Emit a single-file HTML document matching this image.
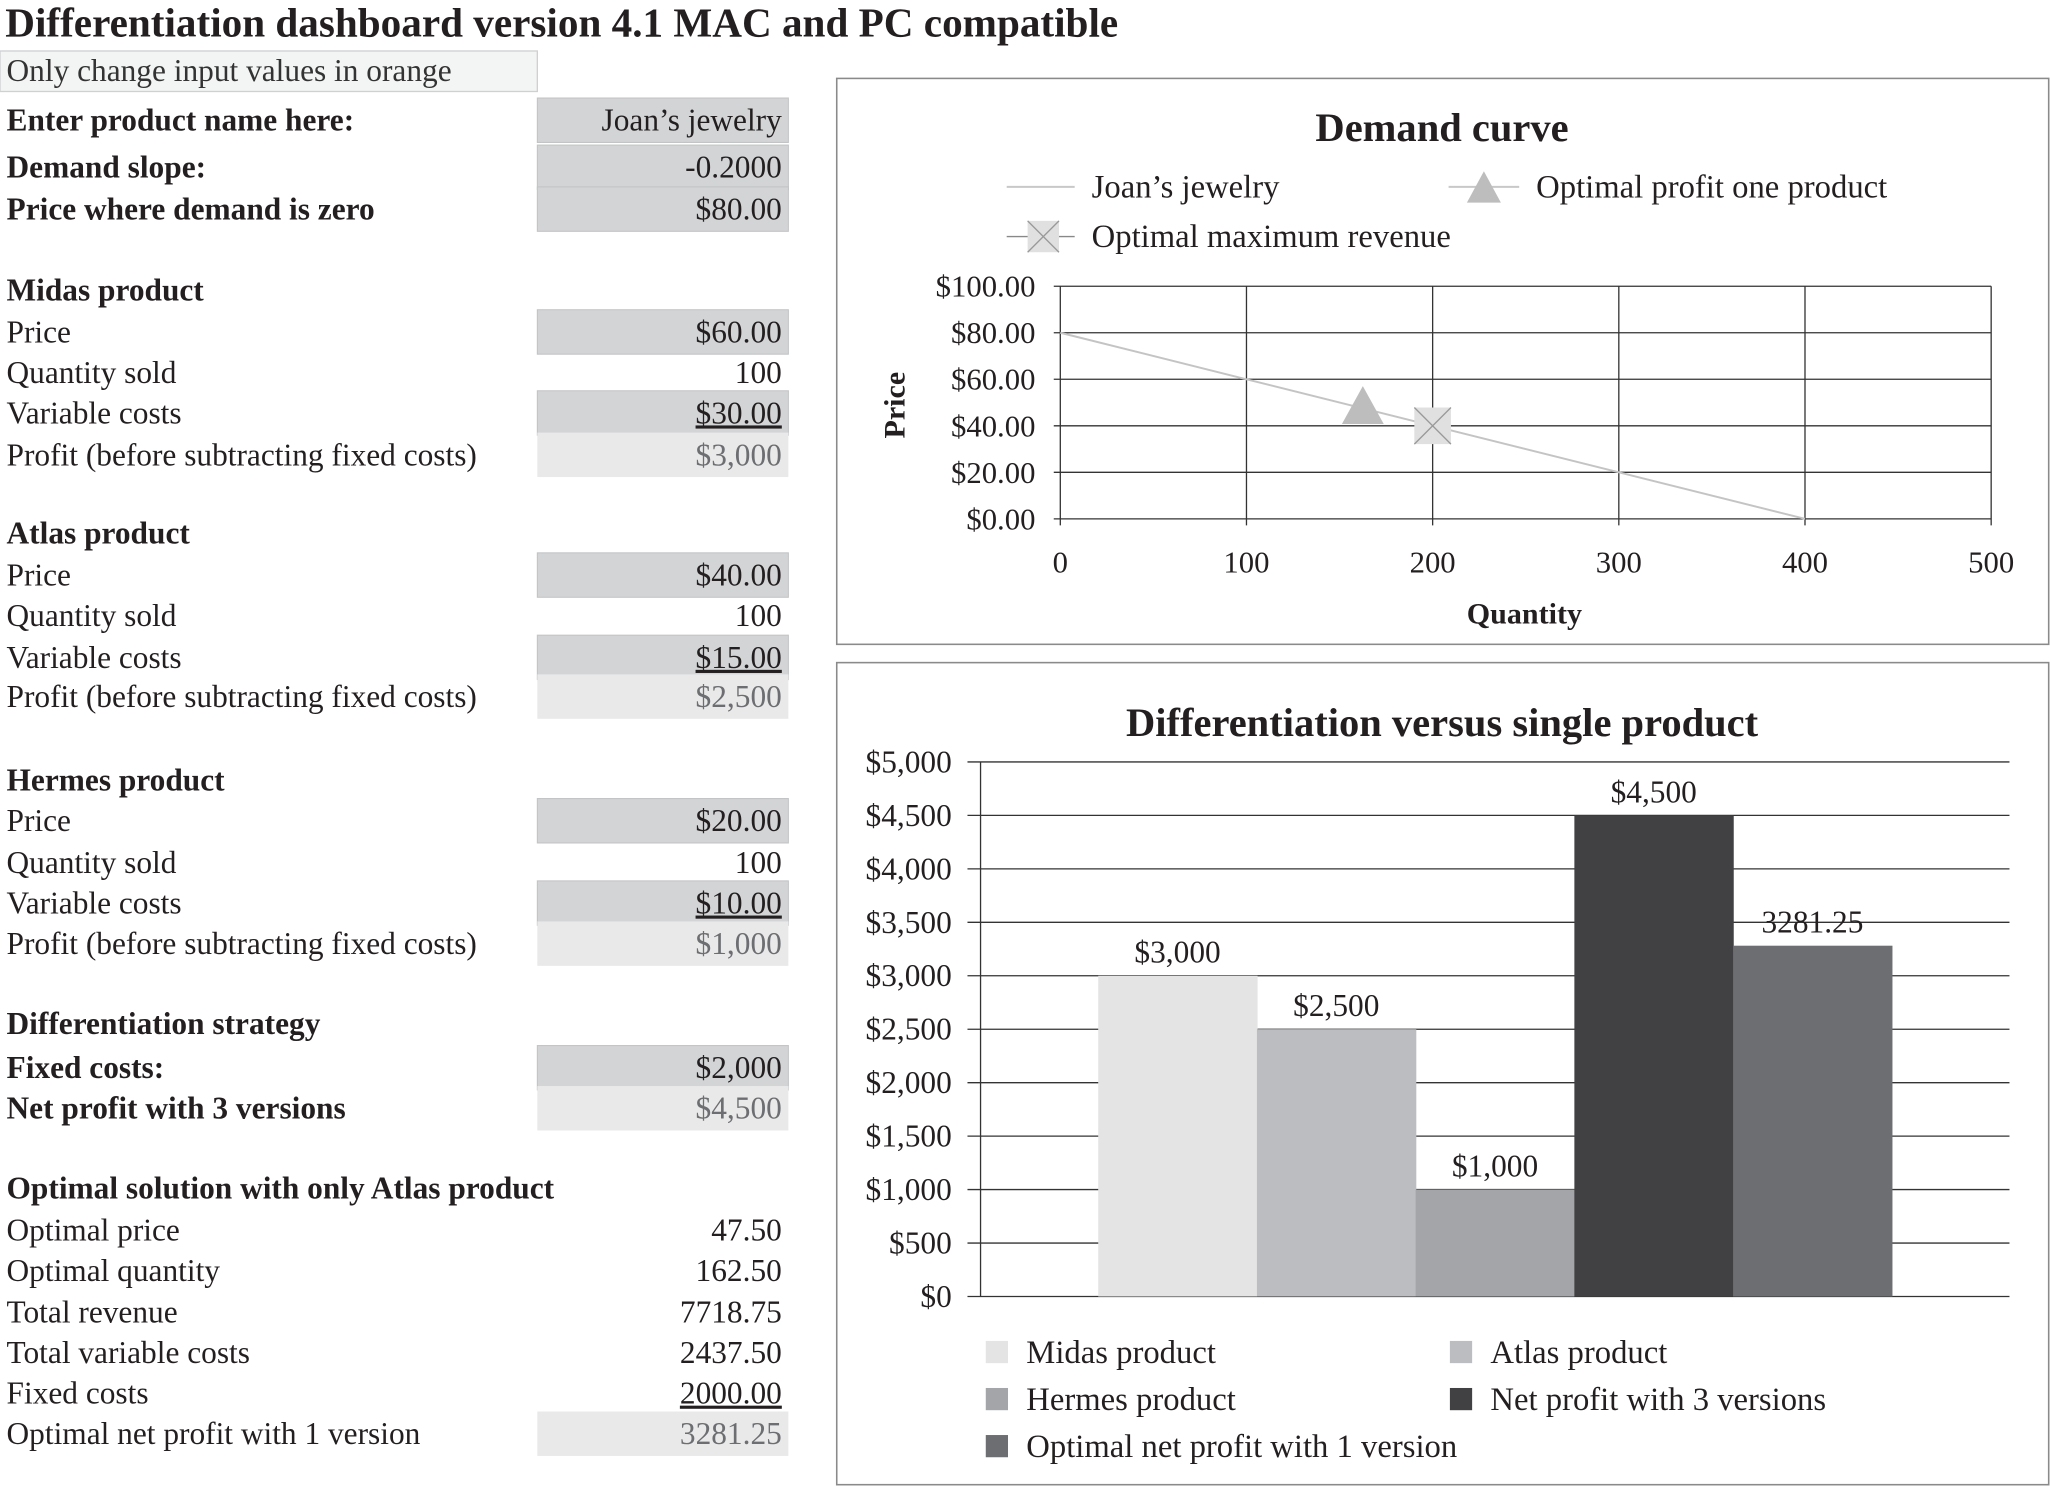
<!DOCTYPE html>
<html><head><meta charset="utf-8">
<style>
html,body{margin:0;padding:0;background:#fff;}
svg{display:block;}
text{font-family:"Liberation Serif",serif;fill:#231f20;}
</style></head>
<body>
<svg id="root" width="2050" height="1486" viewBox="0 0 1568 1137" preserveAspectRatio="none" xmlns="http://www.w3.org/2000/svg">
  <text x="4" y="28" font-size="31.5" font-weight="bold">Differentiation dashboard version 4.1 MAC and PC compatible</text>
  <rect x="0" y="39" width="411" height="31" fill="#f3f4f4" stroke="#cfd0d1" stroke-width="1"/>
  <text x="5" y="62" font-size="24" style="fill:#333">Only change input values in orange</text>
  <g id="table"></g>

  <g>
    <rect x="640" y="60" width="927" height="433" fill="#fff" stroke="#8a8a8a" stroke-width="1.2"/>
    <text x="1103" y="108" font-size="31" font-weight="bold" text-anchor="middle">Demand curve</text>
    <g id="demand-grid"></g>
    <g id="demand-marks"></g>
    <text transform="translate(692,310) rotate(-90)" font-size="23" font-weight="bold" text-anchor="middle">Price</text>
    <text x="1166" y="477" font-size="23" font-weight="bold" text-anchor="middle">Quantity</text>
    <g>
      <line x1="770" y1="143" x2="822" y2="143" stroke="#c8c8c8" stroke-width="1.5"/>
      <text x="835" y="151" font-size="25">Joan’s jewelry</text>
      <line x1="1108" y1="143" x2="1162" y2="143" stroke="#c8c8c8" stroke-width="1.5"/>
      <polygon points="1135,131 1122,155 1148,155" fill="#bdbdbd"/>
      <text x="1175" y="151" font-size="25">Optimal profit one product</text>
      <line x1="770" y1="181" x2="822" y2="181" stroke="#888" stroke-width="1"/>
      <rect x="786" y="169" width="24" height="24" fill="#e0e0e0"/>
      <line x1="786" y1="169" x2="810" y2="193" stroke="#999"/><line x1="810" y1="169" x2="786" y2="193" stroke="#999"/>
      <text x="835" y="189" font-size="25">Optimal maximum revenue</text>
    </g>
  </g>

  <g>
    <rect x="640" y="507" width="927" height="629" fill="#fff" stroke="#8a8a8a" stroke-width="1.2"/>
    <text x="1103" y="563" font-size="31" font-weight="bold" text-anchor="middle">Differentiation versus single product</text>
    <g id="bar-grid"></g>
    <g id="bar-marks"></g>
    <g id="bar-legend"></g>
  </g>
</svg>
<script>
// ---------- table ----------
var tableRows = [
 ["Enter product name here:", "Joan’s jewelry", 92, "in", true],
 ["Demand slope:", "-0.2000", 128, "in", true],
 ["Price where demand is zero", "$80.00", 160, "in", true],
 ["Midas product", "", 222, "", true],
 ["Price", "$60.00", 254, "in", false],
 ["Quantity sold", "100", 285, "", false],
 ["Variable costs", "$30.00", 316, "inu", false],
 ["Profit (before subtracting fixed costs)", "$3,000", 348, "out", false],
 ["Atlas product", "", 408, "", true],
 ["Price", "$40.00", 440, "in", false],
 ["Quantity sold", "100", 471, "", false],
 ["Variable costs", "$15.00", 503, "inu", false],
 ["Profit (before subtracting fixed costs)", "$2,500", 533, "out", false],
 ["Hermes product", "", 597, "", true],
 ["Price", "$20.00", 628, "in", false],
 ["Quantity sold", "100", 660, "", false],
 ["Variable costs", "$10.00", 691, "inu", false],
 ["Profit (before subtracting fixed costs)", "$1,000", 722, "out", false],
 ["Differentiation strategy", "", 783, "", true],
 ["Fixed costs:", "$2,000", 817, "in", true],
 ["Net profit with 3 versions", "$4,500", 848, "out", true],
 ["Optimal solution with only Atlas product", "", 909, "", true],
 ["Optimal price", "47.50", 941, "", false],
 ["Optimal quantity", "162.50", 972, "", false],
 ["Total revenue", "7718.75", 1004, "", false],
 ["Total variable costs", "2437.50", 1035, "", false],
 ["Fixed costs", "2000.00", 1066, "u", false],
 ["Optimal net profit with 1 version", "3281.25", 1097, "out", false]
];
var NS = "http://www.w3.org/2000/svg";
function mk(tag, attrs, parent){var e=document.createElementNS(NS,tag);for(var k in attrs)e.setAttribute(k,attrs[k]);parent.appendChild(e);return e;}
var tbl = document.getElementById('table');
tableRows.forEach(function(r){
  var y=r[2];
  var kind=r[3];
  if(kind==="in" || kind==="inu" || kind==="out"){
    var c=mk('rect',{x:411,y:y-17,width:192,height:34,fill:kind==="out"?"#e9e9ea":"#d3d4d6",stroke:kind==="out"?"none":"#c2c3c5","stroke-width":0.8},tbl);
    
    
  }
  var l=mk('text',{x:5,y:y+8,"font-size":24,"font-weight":r[4]?"bold":"normal"},tbl);
  l.textContent=r[0];
  
  
  if(r[1]){
    var ul=(kind==="inu"||kind==="u");
    var v=mk('text',{x:598,y:y+8,"font-size":24,"text-anchor":"end","text-decoration":ul?"underline":"none",style:"fill:"+(kind==="out"?"#6d6e71":"#231f20")},tbl);
    v.textContent=r[1];
    
    
  }
});

// ---------- demand chart ----------
var qTicks = [0,100,200,300,400,500];
var pTicks = [0,20,40,60,80,100];
var pTickLabels = ["$0.00","$20.00","$40.00","$60.00","$80.00","$100.00"];
var demandQ = [0,100,200,300,400];
var demandP = [80,60,40,20,0];
var optProfitPoint = [162.5,47.5];
var maxRevenuePoint = [200,40];
function dx(q){return 811 + q/500*(1523-811);}
function dy(p){return 397 - p/100*(397-219);}
var dg=document.getElementById('demand-grid');
pTicks.forEach(function(p,i){
  var l=mk('line',{x1:806,x2:1523,y1:dy(p),y2:dy(p),stroke:"#333","stroke-width":1},dg);
  
  
  var t=mk('text',{x:792,y:dy(p)+8,"font-size":23.5,"text-anchor":"end"},dg);
  t.textContent=pTickLabels[i];
  
  
});
qTicks.forEach(function(q){
  var l=mk('line',{x1:dx(q),x2:dx(q),y1:219,y2:402,stroke:"#333","stroke-width":1},dg);
  
  
  var t=mk('text',{x:dx(q),y:438,"font-size":23.5,"text-anchor":"middle"},dg);
  t.textContent=q;
  
  
});
var dm=document.getElementById('demand-marks');
var pts=demandQ.map(function(q,i){return dx(q)+","+dy(demandP[i]);}).join(" ");
var dl=mk('polyline',{points:pts,fill:"none",stroke:"#c4c4c4","stroke-width":1.5},dm);


var tx=dx(optProfitPoint[0]), ty=dy(optProfitPoint[1]);
var tri=mk('polygon',{points:tx+","+(ty-17)+" "+(tx-16)+","+(ty+12)+" "+(tx+16)+","+(ty+12),fill:"#bdbdbd"},dm);


var mx=dx(maxRevenuePoint[0]), my=dy(maxRevenuePoint[1]);
var xg=mk('g',{},dm);


mk('rect',{x:mx-14,y:my-14,width:28,height:28,fill:"#e0e0e0"},xg);
mk('line',{x1:mx-14,y1:my-14,x2:mx+14,y2:my+14,stroke:"#999"},xg);
mk('line',{x1:mx+14,y1:my-14,x2:mx-14,y2:my+14,stroke:"#999"},xg);

// ---------- bar chart ----------
var barSeries = ["Midas product","Atlas product","Hermes product","Net profit with 3 versions","Optimal net profit with 1 version"];
var barValues = [3000,2500,1000,4500,3281.25];
var barValueLabels = ["$3,000","$2,500","$1,000","$4,500","3281.25"];
var barColors = ["#e3e4e3","#bcbdc0","#a3a5a8","#414042","#6d6e71"];
var yTicks = [0,500,1000,1500,2000,2500,3000,3500,4000,4500,5000];
var yTickLabels = ["$0","$500","$1,000","$1,500","$2,000","$2,500","$3,000","$3,500","$4,000","$4,500","$5,000"];
function by(v){return 992 - v/5000*(992-583);}
var bw=(1447-840)/barSeries.length;
function bx(i){return 840 + i*bw;}
var bg=document.getElementById('bar-grid');
yTicks.forEach(function(v,i){
  var l=mk('line',{x1:740,x2:1537,y1:by(v),y2:by(v),stroke:"#333","stroke-width":1},bg);
  
  
  var t=mk('text',{x:728,y:by(v)+8,"font-size":24,"text-anchor":"end"},bg);
  t.textContent=yTickLabels[i];
  
  
});
mk('line',{x1:750,x2:750,y1:583,y2:992,stroke:"#333","stroke-width":1},bg);
var bm=document.getElementById('bar-marks');
barValues.forEach(function(v,i){
  var r=mk('rect',{x:bx(i),y:by(v),width:bw+0.5,height:by(0)-by(v),fill:barColors[i]},bm);
  
  
  var t=mk('text',{x:bx(i)+bw/2,y:by(v)-10,"font-size":24,"text-anchor":"middle"},bm);
  t.textContent=barValueLabels[i];
  
  
});
var lg=document.getElementById('bar-legend');
var legPos=[[754,1034],[1109,1034],[754,1070],[1109,1070],[754,1106]];
barSeries.forEach(function(s,i){
  var g=mk('g',{},lg);
  
  
  mk('rect',{x:legPos[i][0],y:legPos[i][1]-8,width:17,height:17,fill:barColors[i]},g);
  var t=mk('text',{x:legPos[i][0]+31,y:legPos[i][1]+9,"font-size":25},g);
  t.textContent=s;
});
</script>
</body></html>
